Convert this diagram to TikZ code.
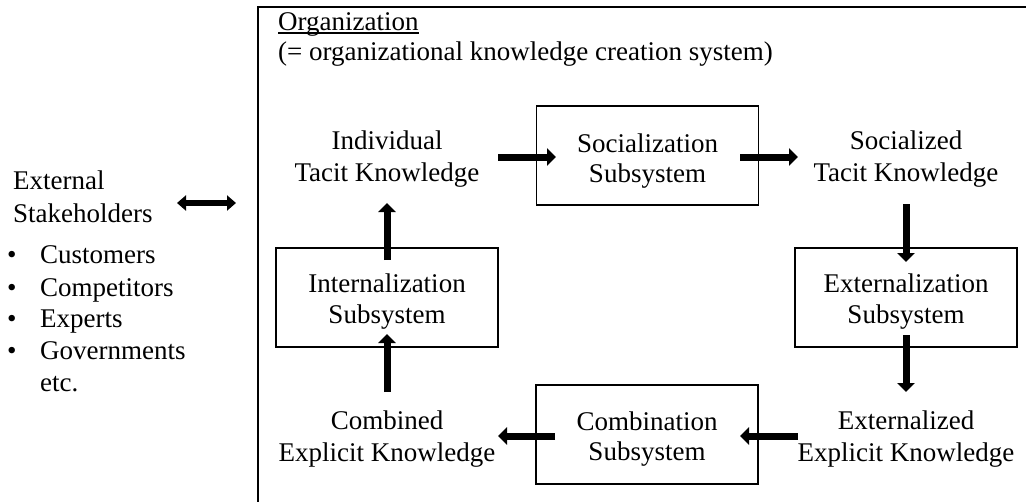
\documentclass[tikz,border=0pt]{standalone}
\usepackage{fontspec}
\setmainfont{Liberation Serif}
\usetikzlibrary{arrows.meta}
\begin{document}
\begin{tikzpicture}[x=1pt,y=-1pt,
  txt/.style={font=\fontsize{27}{32}\selectfont, align=center, inner sep=0pt},
  boxtxt/.style={font=\fontsize{27}{30.5}\selectfont, align=center, inner sep=0pt},
  lbl/.style={font=\fontsize{27}{31}\selectfont, inner sep=0pt, anchor=base west},
  subbox/.style={draw, line width=1.3pt, minimum width=222pt, minimum height=99pt, inner sep=0pt},
  flow/.style={line width=7pt, -{Triangle[length=9pt,width=17pt]}},
  twoway/.style={line width=5.5pt, {Triangle[length=9pt,width=15pt]}-{Triangle[length=9pt,width=15pt]}},
  frame/.style={line width=1.3pt}
]
\useasboundingbox (0,0) rectangle (1026,501);
\begin{scope}
  \clip (0,0) rectangle (1026,501);
  \draw[frame] (258,7) rectangle (1090,560);
\end{scope}

% organization title
\node[lbl] (org) at (278,30) {Organization};
\draw[line width=1.2pt] ([yshift=-3pt]org.base west) -- ([yshift=-3pt]org.base east);
\node[lbl] (orgsub) at (278,60) {(= organizational knowledge creation system)};

% subsystems
\node[subbox] (soc) at (647.5,155.5) {};
\node[subbox] (ext) at (906,297.5) {};
\node[subbox] (com) at (647,434.5) {};
\node[subbox] (int) at (387,297.5) {};
\node[boxtxt] (soct) at (647.5,161) {Socialization\\Subsystem};
\node[boxtxt] (extt) at (906,301.5) {Externalization\\Subsystem};
\node[boxtxt] (comt) at (647,439) {Combination\\Subsystem};
\node[boxtxt] (intt) at (387,301.5) {Internalization\\Subsystem};

% knowledge
\node[txt] (itk) at (387,159) {Individual\\Tacit Knowledge};
\node[txt] (stk) at (906,159) {Socialized\\Tacit Knowledge};
\node[txt] (eek) at (906,439) {Externalized\\Explicit Knowledge};
\node[txt] (cek) at (387,439) {Combined\\Explicit Knowledge};

% arrow ends
\coordinate (a1s) at (498,157); \coordinate (a1e) at (556,157);
\coordinate (a2s) at (740,157); \coordinate (a2e) at (798,157);
\coordinate (a3s) at (906,204); \coordinate (a3e) at (906,262);
\coordinate (a4s) at (906,335); \coordinate (a4e) at (906,392);
\coordinate (a5s) at (798,436); \coordinate (a5e) at (740,436);
\coordinate (a6s) at (555,436); \coordinate (a6e) at (498,436);
\coordinate (a7s) at (387,392); \coordinate (a7e) at (387,334);
\coordinate (a8s) at (387,260); \coordinate (a8e) at (387,203);

\draw[flow] (a1s) -- (a1e);
\draw[flow] (a2s) -- (a2e);
\draw[flow] (a3s) -- (a3e);
\draw[flow] (a4s) -- (a4e);
\draw[flow] (a5s) -- (a5e);
\draw[flow] (a6s) -- (a6e);
\draw[flow] (a7s) -- (a7e);
\draw[flow] (a8s) -- (a8e);

% external stakeholders
\node[lbl] (ex1) at (13,189) {External};
\node[lbl] (ex2) at (13,222) {Stakeholders};
\node[lbl] (b1) at (7,263) {\textbullet};
\node[lbl] (b2) at (7,296) {\textbullet};
\node[lbl] (b3) at (7,327) {\textbullet};
\node[lbl] (b4) at (7,359) {\textbullet};
\node[lbl] (i1) at (40,263) {Customers};
\node[lbl] (i2) at (40,296) {Competitors};
\node[lbl] (i3) at (40,327) {Experts};
\node[lbl] (i4) at (40,359) {Governments};
\node[lbl] (i5) at (40,391) {etc.};

\coordinate (dl) at (177,203); \coordinate (dr) at (236,203);
\draw[twoway] (dl) -- (dr);
\end{tikzpicture}
\end{document}
